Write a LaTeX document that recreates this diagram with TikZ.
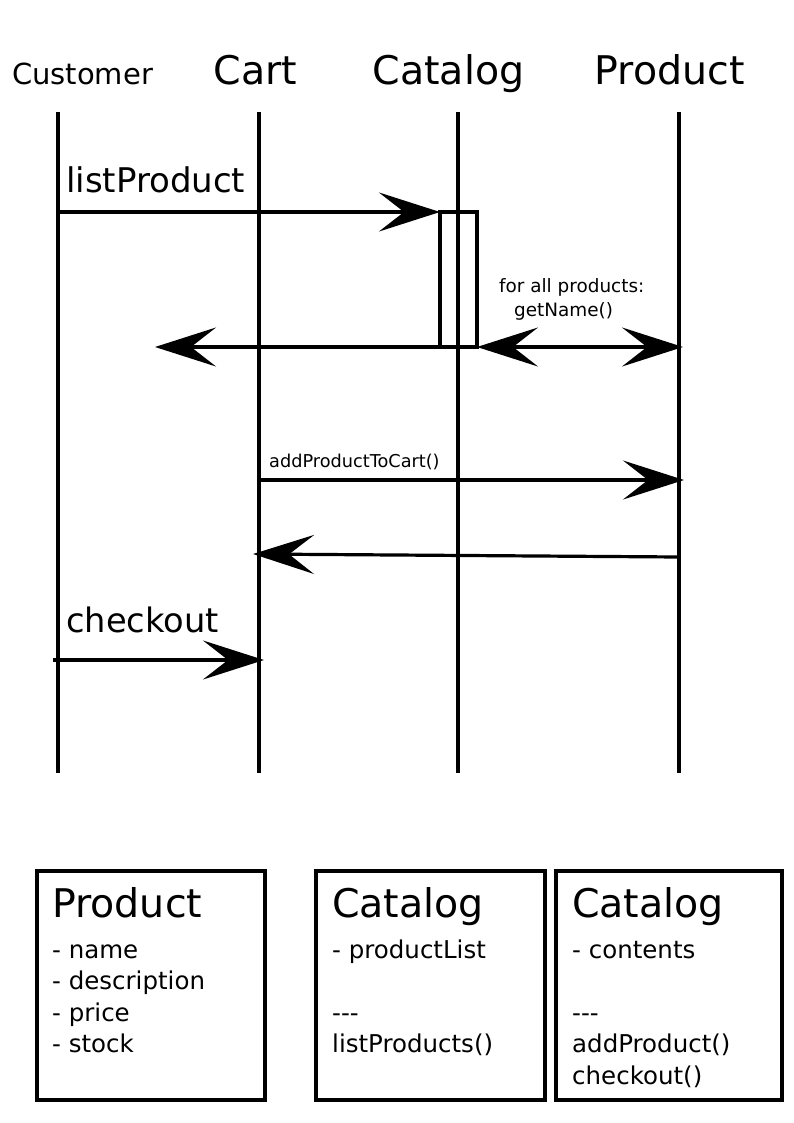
\documentclass[tikz,border=0pt]{standalone}
\usepackage{fontspec}
\setmainfont{DejaVu Sans}
\usetikzlibrary{arrows.meta,positioning}

\newcommand{\fsize}[1]{\fontsize{#1}{#1}\selectfont}

\tikzset{
  big tip/.tip={Stealth[length=61pt,width=39pt,inset=25pt]},
  lifeline/.style={line width=3.2pt},
  msg/.style={line width=3.2pt,-big tip},
  header/.style={anchor=base,inner sep=0pt,font=\fsize{39.5}},
  label/.style={anchor=base west,inner sep=0pt},
  classbox/.style={draw,line width=3.4pt,minimum width=228pt,minimum height=229pt,inner sep=0pt},
  item/.style={anchor=base west,inner sep=0pt,font=\fsize{24.5}}
}

\begin{document}
\begin{tikzpicture}[x=1pt,y=-1pt]
  \useasboundingbox (0,0) rectangle (794,1123);

  % heads of the lifelines
  \node[header,font=\fsize{29}] (customer) at (82.5,85) {Customer};
  \node[header] (cart) at (255.5,85) {Cart};
  \node[header] (catalog) at (448.5,85) {Catalog};
  \node[header] (product) at (669.5,85) {Product};

  \foreach \name/\x in {customer/58,cart/259,catalog/458,product/679} {
    \coordinate (\name-top) at (\x,112);
    \coordinate (\name-bot) at (\x,773);
    \draw[lifeline] (\name-top) -- (\name-bot);
  }

  % activation on the catalog
  \node[draw,line width=3.2pt,outer sep=0pt,minimum width=37pt,minimum height=135pt,inner sep=0pt] (act) at (458.5,279.5) {};

  % messages
  \coordinate (list-from) at (58,212);
  \coordinate (list-back) at (155,347);
  \coordinate (get-to) at (683,347);
  \coordinate (add-from) at (259,480);
  \coordinate (add-to) at (684,480);
  \coordinate (added-from) at (679,557);
  \coordinate (added-to) at (253,554);
  \coordinate (check-from) at (53,660);
  \coordinate (check-to) at (264,660);

  \draw[msg] (list-from) -- (act.north west);
  \draw[msg] (act.south west) -- (list-back);
  \draw[msg,big tip-big tip] (act.south east) -- (get-to);
  \draw[msg] (add-from) -- (add-to);
  \draw[msg] (added-from) -- (added-to);
  \draw[msg] (check-from) -- (check-to);

  \node[label,font=\fsize{34}] (list-lbl) at (66,193) {listProduct};
  \node[label,font=\fsize{18.4}] (get-lbl) at (499,292) {for all products:};
  \node[label,font=\fsize{18.4}] (get-lbl2) at (514,316) {getName()};
  \node[label,font=\fsize{17.7}] (add-lbl) at (269,467) {addProductToCart()};
  \node[label,font=\fsize{33.7}] (check-lbl) at (66,632) {checkout};

  % class boxes
  \node[classbox] (product-box) at (151,985.5) {};
  \node[classbox,minimum width=229pt] (catalog-box) at (430.5,985.5) {};
  \node[classbox,minimum width=226pt] (cart-box) at (669,985.5) {};

  \node[item,font=\fsize{39.5}] (product-title) at (52,917) {Product};
  \node[item,font=\fsize{39.5}] (catalog-title) at (332,917) {Catalog};
  \node[item,font=\fsize{39.5}] (cart-title) at (572,917) {Catalog};

  \foreach \t [count=\i from 0] in {- name,- description,- price,- stock}
    \node[item] at (52,958+31.5*\i) {\t};
  \foreach \t/\i in {- productList/0,-{}-{}-/2,listProducts()/3}
    \node[item] at (332,958+31.5*\i) {\t};
  \foreach \t/\i in {- contents/0,-{}-{}-/2,addProduct()/3,checkout()/4}
    \node[item] at (572,958+31.5*\i) {\t};
\end{tikzpicture}
\end{document}
